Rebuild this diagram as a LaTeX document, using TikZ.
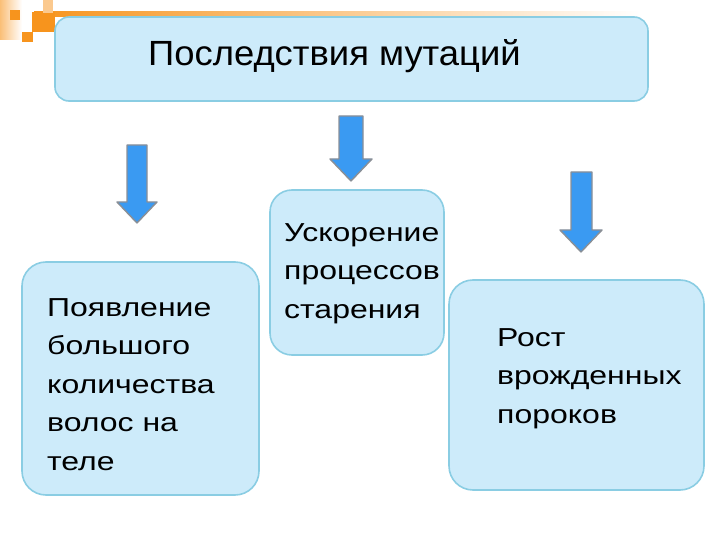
\documentclass[tikz,border=0pt]{standalone}
\usepackage{fontspec}
\setmainfont{Liberation Sans}
\newfontfamily\boxfont[FakeStretch=1.23]{Liberation Sans}
\newfontfamily\headfont[FakeStretch=1.04]{Liberation Sans}
\definecolor{boxfill}{HTML}{CDEBFA}
\definecolor{boxline}{HTML}{8ACDE3}
\definecolor{arrowblue}{HTML}{3A9AF2}
\definecolor{arrowrim}{HTML}{8A8F96}
\definecolor{deco}{HTML}{F7941D}
\begin{document}
\begin{tikzpicture}[x=1pt,y=-1pt,line join=round,
    card/.style={draw=boxline,fill=boxfill,line width=1.6pt},
    label/.style={inner sep=0pt,anchor=base west,align=left,font=\boxfont\fontsize{26}{38.5}\selectfont},
    blockarrow/.style={draw=arrowrim,fill=arrowblue,line width=1.4pt}]
	\useasboundingbox (0,0) rectangle (720,540);
	% corner decoration
	\shade[left color=deco!60,right color=white] (0,0) rectangle (22,40);
	\shade[left color=deco,right color=white] (34,12) rectangle (640,17);
	\fill[deco] (10,10) rectangle (20,20);
	\fill[deco] (22,32) rectangle (33,42);
	\fill[deco] (32,12) rectangle (55,32);
	\fill[deco!50] (43,0) rectangle (53,13);
	% boxes
	\draw[card,rounded corners=14pt] (55,17) rectangle (648,101);
	\draw[card,rounded corners=24pt] (22,262) rectangle (259,495);
	\draw[card,rounded corners=22pt] (270,190) rectangle (444,355);
	\draw[card,rounded corners=24pt] (449,280) rectangle (704,490);
	% texts (anchored at the baseline of the last line)
	\node[inner sep=0pt,anchor=base west,font=\headfont\fontsize{35}{40}\selectfont] (T) at (148,66) {Последствия мутаций};
	\node[label] (A) at (47,470) {Появление\\большого\\количества\\волос на\\теле};
	\node[label] (B) at (284,318) {Ускорение\\процессов\\старения};
	\node[label] (C) at (497,423) {Рост\\врожденных\\пороков};
	% arrows
	\draw[blockarrow] (127,145) -- (147,145) -- (147,202) -- (157,202) -- (137,223) -- (117,202) -- (127,202) -- cycle;
	\draw[blockarrow] (339,116) -- (363,116) -- (363,159) -- (372,159) -- (351,181) -- (330,159) -- (339,159) -- cycle;
	\draw[blockarrow] (571,172) -- (592,172) -- (592,230) -- (602,230) -- (581,252) -- (560,230) -- (571,230) -- cycle;
\end{tikzpicture}
\end{document}
